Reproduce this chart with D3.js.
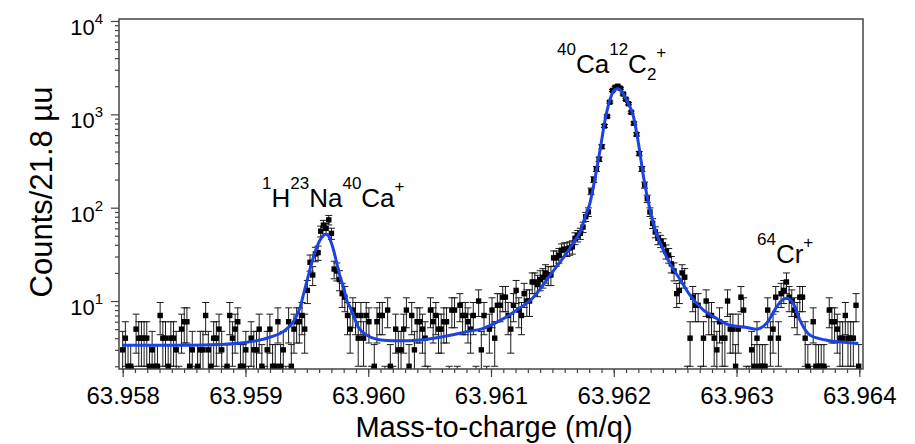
<!DOCTYPE html>
<html>
<head>
<meta charset="utf-8">
<script src="https://cdn.jsdelivr.net/npm/d3@7"></script>
<style>
  body { margin: 0; background: #fff; }
  svg { display: block; }
  text { font-family: "Liberation Sans", Arial, Helvetica, sans-serif; fill: #000; }
</style>
</head>
<body>
<svg id="chart" width="915" height="444"></svg>
<script>
// Histogram: counts per 21.8 µu bin, first bin centred at 63.958
const binStart = 63.958;
const binWidth = 0.0000218;
const counts = [
  3,4,2,2,1,5,4,4,4,4, 2,3,2,2,7,4,4,2,4,4, 3,1,5,6,6,2,3,1,2,3,
  3,7,3,2,4,4,5,3,1,2, 7,4,5,6,2,2,3,1,4,3, 3,5,2,1,3,5,2,2,6,2,
  3,1,6,2,5,6,6,7,5,13, 26,19,32,33,56,65,60,74,53,22, 21,17,12,11,7,5,8,7,4,7,
  4,7,6,1,2,6,7,7,1,8, 2,1,5,3,3,5,8,2,7,3, 6,6,5,4,1,8,6,7,5,5,
  6,6,1,8,8,1,9,7,7,6, 5,7,1,10,3,7,1,5,8,4, 9,9,11,11,7,5,9,13,8,7,
  12,10,10,16,16,15,17,18,20,19, 19,29,29,31,35,36,36,37,38,47, 50,53,62,80,90,150,200,260,330,450,
  750,950,1350,1800,1950,2000,1900,1650,1450,1300, 1050,800,610,380,260,175,125,90,68,55,
  47,44,40,34,31,25,21,12,13,20, 18,1,4,11,9,9,1,4,10,7, 7,4,3,6,4,4,10,5,5,2,
  5,11,8,1,1,3,2,4,2,2, 2,8,4,5,11,4,12,13,16,11, 10,8,7,11,11,4,2,1,6,2,
  2,2,2,1,8,6,6,5,4,4, 7,4,4,4,9,2
];

// Fitted line-shape model (sum of three peaks on a flat background)
const fitMass = [
  63.958000, 63.958226, 63.958470, 63.958714, 63.959000, 63.959202, 63.959308, 63.959390,
  63.959447, 63.959474, 63.959504, 63.959555, 63.959596, 63.959626, 63.959650, 63.959675,
  63.959691, 63.959718, 63.959748, 63.959772, 63.959799, 63.959827, 63.959854, 63.959921,
  63.959990, 63.960125, 63.960261, 63.960397, 63.960532, 63.960668, 63.960804, 63.960939,
  63.961075, 63.961211, 63.961346, 63.961482, 63.961618, 63.961670, 63.961726, 63.961767,
  63.961808, 63.961848, 63.961889, 63.961930, 63.961970, 63.962003, 63.962036, 63.962068,
  63.962106, 63.962160, 63.962201, 63.962242, 63.962296, 63.962337, 63.962378, 63.962459,
  63.962540, 63.962622, 63.962730, 63.962839, 63.962947, 63.963083, 63.963165, 63.963246,
  63.963328, 63.963363, 63.963409, 63.963463, 63.963517, 63.963599, 63.963735, 63.963897,
  63.963992
];
const fitCounts = [
  3.35, 3.35, 3.36, 3.4, 3.6, 4.1, 4.7, 6,
  8.7, 12, 17, 30, 42, 49, 52, 50,
  45, 35, 24, 18, 14, 10, 8.5, 5.2,
  4.3, 3.8, 3.75, 3.8, 4.0, 4.3, 4.7, 5.1,
  6.2, 8, 11, 19, 33, 42, 55, 80,
  115, 210, 420, 880, 1450, 1800, 1880, 1720,
  1400, 950, 490, 215, 94, 58, 42, 25,
  17, 11.5, 8, 6.5, 5.5, 5.2, 5.0, 5.8,
  8.7, 10, 10.7, 9.4, 6.2, 4.3, 3.8, 3.6,
  3.5
];

const xTickValues = [63.958, 63.959, 63.960, 63.961, 63.962, 63.963, 63.964];
const yTickExponents = [1, 2, 3, 4];

// Peak annotations: pieces of each formula (sup = superscript, sub = subscript)
const peakLabels = [
  [["1","sup"],["H",""],["23","sup"],["Na",""],["40","sup"],["Ca",""],["+","sup"]],
  [["40","sup"],["Ca",""],["12","sup"],["C",""],["2","sub"],["+","sup"]],
  [["64","sup"],["Cr",""],["+","sup"]]
];
const labelAnchors = [[262, 207], [557, 73], [757, 263]];

const svg = d3.select("#chart");
const plotLeft = 119, plotRight = 863, plotTop = 19, plotBottom = 369;

const x = d3.scaleLinear().domain([63.95797, 63.96403]).range([plotLeft, plotRight]);
const y = d3.scaleLog().domain([1.87, 10500]).range([plotBottom, plotTop]);

svg.append("defs").append("clipPath").attr("id", "plotClip")
  .append("rect").attr("x", plotLeft).attr("y", plotTop)
  .attr("width", plotRight - plotLeft).attr("height", plotBottom - plotTop);

const plot = svg.append("g").attr("clip-path", "url(#plotClip)");

const bins = counts.map((c, i) => ({ m: binStart + i * binWidth, c }))
  .filter(d => d.c > 0);

// Poisson error bars
const floorVal = 0.5;
const err = plot.append("g").attr("stroke", "#1a1a1a").attr("stroke-width", 1);
bins.forEach(d => {
  const e = Math.sqrt(d.c);
  const lo = Math.max(d.c - e, floorVal), hi = d.c + e;
  const cx = x(d.m);
  err.append("line").attr("x1", cx).attr("x2", cx).attr("y1", y(lo)).attr("y2", y(hi));
  err.append("line").attr("x1", cx - 3.5).attr("x2", cx + 3.5).attr("y1", y(hi)).attr("y2", y(hi));
  if (d.c - e > floorVal)
    err.append("line").attr("x1", cx - 3.5).attr("x2", cx + 3.5).attr("y1", y(lo)).attr("y2", y(lo));
});

// Data markers
plot.append("g").selectAll("rect").data(bins).join("rect")
  .attr("x", d => x(d.m) - 2.7).attr("y", d => y(d.c) - 2.7)
  .attr("width", 5.4).attr("height", 5.4).attr("fill", "#000");

// Fit curve
const fitData = fitMass.map((m, i) => [m, fitCounts[i]]);
plot.append("path").datum(fitData)
  .attr("fill", "none").attr("stroke", "#1b43e2").attr("stroke-width", 3)
  .attr("stroke-linejoin", "round")
  .attr("d", d3.line().x(d => x(d[0])).y(d => y(d[1])).curve(d3.curveMonotoneX));

// Axes
const axisColor = "#444";
const xMinor = d3.range(0, 61).map(j => +(63.958 + j * 0.0001).toFixed(4));
const gxMinor = svg.append("g").attr("transform", `translate(0,${plotBottom})`)
  .call(d3.axisBottom(x).tickValues(xMinor).tickSize(4).tickFormat(""));
const gxMajor = svg.append("g").attr("transform", `translate(0,${plotBottom})`)
  .call(d3.axisBottom(x).tickValues(xTickValues).tickSize(8).tickFormat(d3.format(".3f")));
gxMajor.selectAll("text").attr("font-size", 24).attr("dy", 0).attr("y", 35).attr("fill", "#000");

const yMinor = [];
for (let p = 0; p <= 4; p++) for (let k = 2; k <= 9; k++) {
  const v = k * Math.pow(10, p);
  if (v >= 1.87 && v <= 10500) yMinor.push(v);
}
const gyMinor = svg.append("g").attr("transform", `translate(${plotLeft},0)`)
  .call(d3.axisLeft(y).tickValues(yMinor).tickSize(4).tickFormat(""));
const gyMajor = svg.append("g").attr("transform", `translate(${plotLeft},0)`)
  .call(d3.axisLeft(y).tickValues(yTickExponents.map(e => Math.pow(10, e))).tickSize(8).tickFormat(""));

[gxMinor, gxMajor, gyMinor, gyMajor].forEach(g => {
  g.select(".domain").remove();
  g.selectAll("line").attr("stroke", axisColor).attr("stroke-width", 1.2);
});

// Power-of-ten labels on the y axis
yTickExponents.forEach(e => {
  const t = svg.append("text").attr("x", 103).attr("y", y(Math.pow(10, e)) + 14)
    .attr("text-anchor", "end");
  t.append("tspan").attr("font-size", 22).text("10");
  t.append("tspan").attr("font-size", 15).attr("dy", -11).text(String(e));
});

// Frame
svg.append("rect").attr("x", plotLeft).attr("y", plotTop)
  .attr("width", plotRight - plotLeft).attr("height", plotBottom - plotTop)
  .attr("fill", "none").attr("stroke", axisColor).attr("stroke-width", 1.5);

// Axis titles
svg.append("text").attr("x", 494).attr("y", 437).attr("text-anchor", "middle")
  .attr("font-size", 29).text("Mass-to-charge (m/q)");
svg.append("text").attr("transform", "translate(52,192) rotate(-90)")
  .attr("text-anchor", "middle").attr("font-size", 31).text("Counts/21.8 µu");

// Peak labels
peakLabels.forEach((parts, i) => {
  const [lx, base] = labelAnchors[i];
  const t = svg.append("text").attr("x", lx).attr("y", base);
  parts.forEach(([txt, kind]) => {
    const ts = t.append("tspan").text(txt);
    if (kind === "sup") ts.attr("font-size", 17).attr("y", base - (txt === "+" ? 15 : 18));
    else if (kind === "sub") ts.attr("font-size", 17).attr("y", base + 7);
    else ts.attr("font-size", 26).attr("y", base);
  });
});
</script>
</body>
</html>
